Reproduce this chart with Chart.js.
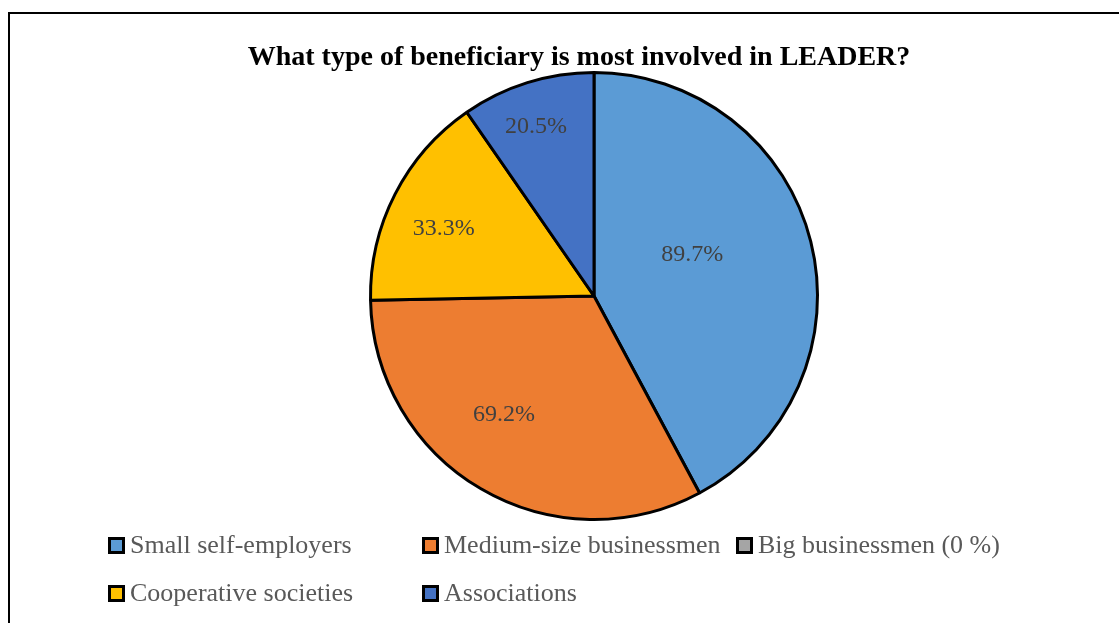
<!DOCTYPE html>
<html>
<head>
<meta charset="utf-8">
<script src="https://cdn.jsdelivr.net/npm/chart.js@4.4.1/dist/chart.umd.min.js"></script>
<style>
  html, body { margin: 0; padding: 0; width: 1119px; height: 623px; overflow: hidden; background: #fff; }
  #frame { position: absolute; left: 8px; top: 12px; width: 1200px; height: 700px; border: 2px solid #000; box-sizing: border-box; }
  #chartWrap { position: absolute; left: 0; top: 0; width: 1119px; height: 623px; }
  #title { position: absolute; left: 0; top: 40px; width: 1158px; text-align: center; font-family: "Liberation Serif", serif; font-weight: bold; font-size: 28px; line-height: 32px; color: #000; white-space: nowrap; }
  #legend { position: absolute; left: 108px; top: 530px; display: grid; grid-template-columns: 314px 314px 314px; grid-auto-rows: 48px; font-family: "Liberation Serif", serif; font-size: 26px; color: #595959; }
  .item { display: flex; align-items: center; height: 30px; white-space: nowrap; }
  .box { width: 17px; height: 17px; border: 3px solid #000; box-sizing: border-box; margin-right: 5px; flex: none; }
</style>
</head>
<body>
<div id="frame"></div>
<div id="chartWrap"><canvas id="c" width="1119" height="623"></canvas></div>
<div id="title"></div>
<div id="legend"></div>
<script>
const titleText = "What type of beneficiary is most involved in LEADER?";
const categories = ["Small self-employers", "Medium-size businessmen", "Big businessmen (0 %)", "Cooperative societies", "Associations"];
const values = [89.7, 69.2, 0, 33.3, 20.5];
const valueLabels = ["89.7%", "69.2%", "", "33.3%", "20.5%"];
const colors = ["#5B9BD5", "#ED7D31", "#A5A5A5", "#FFC000", "#4472C4"];

document.getElementById('title').textContent = titleText;

const legendEl = document.getElementById('legend');
categories.forEach((name, i) => {
  const item = document.createElement('div');
  item.className = 'item';
  const box = document.createElement('span');
  box.className = 'box';
  box.style.background = colors[i];
  const txt = document.createElement('span');
  txt.textContent = name;
  item.appendChild(box);
  item.appendChild(txt);
  legendEl.appendChild(item);
});

// label placement (fraction of radius, angle offset in degrees from slice bisector)
const labelPlacement = [
  { r: 0.48, da: -9.6 },
  { r: 0.66, da: 7.2 },
  { r: 0.5, da: 0 },
  { r: 0.74, da: -2.4 },
  { r: 0.81, da: -1.3 }
];

const sliceLabels = {
  id: 'sliceLabels',
  afterDatasetsDraw(chart) {
    const ctx = chart.ctx;
    const meta = chart.getDatasetMeta(0);
    ctx.save();
    ctx.font = '24px "Liberation Serif", serif';
    ctx.fillStyle = '#404040';
    ctx.textAlign = 'center';
    ctx.textBaseline = 'middle';
    meta.data.forEach((arc, i) => {
      if (!values[i]) return;
      const p = arc.getProps(['x', 'y', 'startAngle', 'endAngle', 'outerRadius'], true);
      const pl = labelPlacement[i];
      const mid = (p.startAngle + p.endAngle) / 2 + pl.da * Math.PI / 180;
      const rr = p.outerRadius * pl.r;
      ctx.fillText(valueLabels[i], p.x + Math.cos(mid) * rr, p.y + Math.sin(mid) * rr + 2);
    });
    ctx.restore();
  }
};

new Chart(document.getElementById('c'), {
  type: 'pie',
  data: {
    labels: categories,
    datasets: [{
      data: values,
      backgroundColor: colors,
      borderColor: '#000000',
      borderWidth: 3
    }]
  },
  options: {
    responsive: false,
    animation: false,
    layout: { padding: { left: 69, right: 0, top: 71, bottom: 102 } },
    plugins: {
      legend: { display: false },
      title: { display: false },
      tooltip: { enabled: false }
    }
  },
  plugins: [sliceLabels]
});
</script>
</body>
</html>
